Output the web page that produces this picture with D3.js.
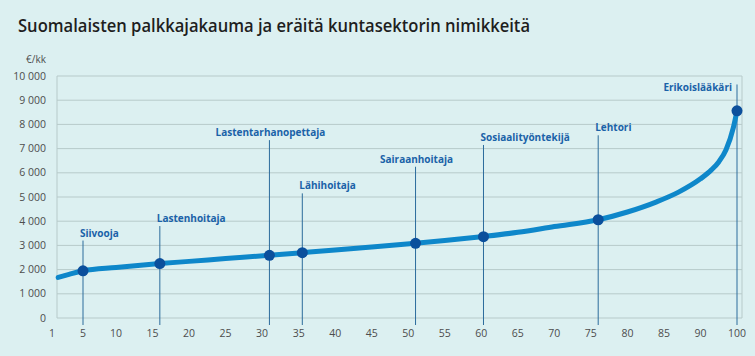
<!DOCTYPE html>
<html>
<head>
<meta charset="utf-8">
<script src="https://cdn.jsdelivr.net/npm/d3@7"></script>
<style>
  html, body { margin: 0; padding: 0; background: #dcf0f1; }
  svg { display: block; }
</style>
</head>
<body>
<svg id="chart" width="755" height="356"></svg>
<script>
// ---------- data ----------
const title = "Suomalaisten palkkajakauma ja eräitä kuntasektorin nimikkeitä";
const unitLabel = "€/kk";

// salary distribution curve (percentile -> €/kk)
const percentiles = [1.8, 3.2, 5, 10, 16, 20, 25, 31, 35.5, 40, 45, 51, 55, 60, 65, 70, 76, 80, 84, 87, 90, 93, 95, 97, 99, 100];
const salaries    = [1675, 1800, 1950, 2090, 2250, 2340, 2455, 2590, 2700, 2810, 2930, 3085, 3200, 3360, 3540, 3780, 4060, 4380, 4800, 5200, 5750, 6120, 6450, 6950, 7870, 8560];

// occupations marked on the curve
const occupations   = ["Siivooja", "Lastenhoitaja", "Lastentarhanopettaja", "Lähihoitaja", "Sairaanhoitaja", "Sosiaalityöntekijä", "Lehtori", "Erikoislääkäri"];
const occPercentile = [5, 16, 31, 35.5, 51, 60.3, 76, 100];
const occSalary     = [1950, 2250, 2590, 2700, 3085, 3360, 4060, 8560];
const occLabelLevel = [3200, 3800, 7350, 5150, 6250, 7150, 7550, 9650];

// axis tick labels
const xTicks = [1, 5, 10, 15, 20, 25, 30, 35, 40, 45, 50, 55, 60, 65, 70, 75, 80, 85, 90, 100];
const yTicks = [0, 1000, 2000, 3000, 4000, 5000, 6000, 7000, 8000, 9000, 10000];

// ---------- layout ----------
const W = 755, H = 356;
const plotLeft = 57, plotRight = 742, plotTop = 76, plotBottom = 318;
const labelAnchor = ["start", "start", "middle", "start", "middle", "start", "start", "end"];

const svg = d3.select("#chart");
svg.append("rect").attr("width", W).attr("height", H).attr("fill", "#dcf0f1");

// x positions of the tick labels (non-uniform axis as in the original)
const step = (737 - 116) / 17;
const xRange = xTicks.map((t, i) => i === 0 ? 52 : i === 1 ? 83 : 116 + (i - 2) * step);
const x = d3.scaleLinear().domain(xTicks).range(xRange);
const y = d3.scaleLinear().domain([0, 10000]).range([plotBottom, plotTop]);

// gridlines
svg.append("g").selectAll("line").data(yTicks).join("line")
  .attr("x1", plotLeft).attr("x2", plotRight)
  .attr("y1", d => y(d)).attr("y2", d => y(d))
  .attr("stroke", "#b7caca").attr("stroke-width", 1);
// frame sides
svg.append("line").attr("x1", plotLeft).attr("x2", plotLeft).attr("y1", y(10000)).attr("y2", y(0))
  .attr("stroke", "#b7caca");
svg.append("line").attr("x1", plotRight).attr("x2", plotRight).attr("y1", y(10000)).attr("y2", y(0))
  .attr("stroke", "#b7caca");

// y axis labels
svg.append("g").selectAll("text").data(yTicks).join("text")
  .attr("x", 46).attr("y", d => y(d)).attr("dy", "0.35em")
  .attr("text-anchor", "end")
  .attr("font-family", "Open Sans, sans-serif").attr("font-size", 10.5)
  .attr("fill", "#4d4d4d")
  .text(d => d >= 1000 ? Math.floor(d / 1000) + " 000" : d);

svg.append("text").attr("x", 46).attr("y", 63).attr("text-anchor", "end")
  .attr("font-family", "Open Sans, sans-serif").attr("font-size", 10)
  .attr("fill", "#4d4d4d").text(unitLabel);

// x axis labels
svg.append("g").selectAll("text").data(xTicks).join("text")
  .attr("x", d => x(d)).attr("y", 337)
  .attr("text-anchor", "middle")
  .attr("font-family", "Open Sans, sans-serif").attr("font-size", 10.5)
  .attr("fill", "#4d4d4d")
  .text(d => d);

// title
svg.append("text").attr("x", 18).attr("y", 32)
  .attr("font-family", "Open Sans, sans-serif").attr("font-size", 18).attr("font-weight", 600)
  .attr("fill", "#1e1e1e")
  .attr("textLength", 512).attr("lengthAdjust", "spacingAndGlyphs")
  .text(title);

// occupation data
const occ = occupations.map((name, i) => ({
  name, p: occPercentile[i], v: occSalary[i], level: occLabelLevel[i], anchor: labelAnchor[i]
}));

// annotation lines
svg.append("g").selectAll("line").data(occ).join("line")
  .attr("x1", d => x(d.p)).attr("x2", d => x(d.p))
  .attr("y1", d => y(d.level)).attr("y2", 325)
  .attr("stroke", "#2c6c9c").attr("stroke-width", 1);

// curve
const curveData = percentiles.map((p, i) => [p, salaries[i]]);
const line = d3.line().x(d => x(d[0])).y(d => y(d[1])).curve(d3.curveMonotoneX);
svg.append("path").datum(curveData).attr("d", line)
  .attr("fill", "none").attr("stroke", "#0e87ca").attr("stroke-width", 5)
  .attr("stroke-linecap", "round");

// markers
svg.append("g").selectAll("circle").data(occ).join("circle")
  .attr("cx", d => x(d.p)).attr("cy", d => y(d.v)).attr("r", 5.5)
  .attr("fill", "#0b4f9c");

// labels
svg.append("g").selectAll("text").data(occ).join("text")
  .attr("x", d => x(d.p) + (d.anchor === "start" ? -3 : d.anchor === "end" ? -5 : 1))
  .attr("y", d => d.anchor === "end" ? y(d.level) + 7 : y(d.level) - 4)
  .attr("text-anchor", d => d.anchor)
  .attr("font-family", "Open Sans, sans-serif").attr("font-size", 10).attr("font-weight", 700)
  .attr("fill", "#1a62a8")
  .text(d => d.name);
</script>
</body>
</html>
